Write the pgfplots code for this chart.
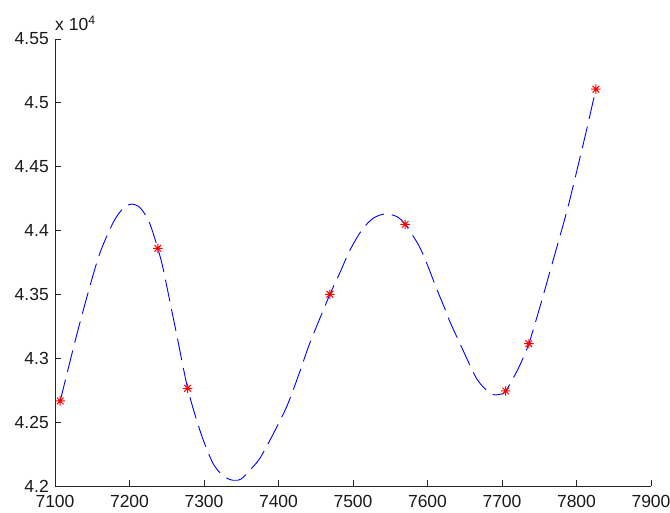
\documentclass[border=0pt]{standalone}
\usepackage{fontspec}
\setmainfont{Liberation Sans}
\usepackage{pgfplots}
\usepackage{pgfplotstable}
\pgfplotsset{compat=1.18}

% MATLAB-style asterisk: + and x on top of each other
\pgfdeclareplotmark{mstar}{%
  \pgfpathmoveto{\pgfqpoint{-\pgfplotmarksize}{0pt}}%
  \pgfpathlineto{\pgfqpoint{\pgfplotmarksize}{0pt}}%
  \pgfpathmoveto{\pgfqpoint{0pt}{-\pgfplotmarksize}}%
  \pgfpathlineto{\pgfqpoint{0pt}{\pgfplotmarksize}}%
  \pgfpathmoveto{\pgfqpoint{-.7071\pgfplotmarksize}{-.7071\pgfplotmarksize}}%
  \pgfpathlineto{\pgfqpoint{.7071\pgfplotmarksize}{.7071\pgfplotmarksize}}%
  \pgfpathmoveto{\pgfqpoint{-.7071\pgfplotmarksize}{.7071\pgfplotmarksize}}%
  \pgfpathlineto{\pgfqpoint{.7071\pgfplotmarksize}{-.7071\pgfplotmarksize}}%
  \pgfusepathqstroke}

\newcommand\lblfont{\fontsize{17.5}{20}\selectfont}

% interpolated curve
\pgfplotstableread{
x y
7107 42666
7118 42925
7129 43180
7140 43420
7151 43650
7158 43785
7165 43895
7178 44062
7187 44144
7195 44190
7203 44208
7212 44190
7218 44152
7225 44085
7230 44010
7238 43861
7245 43705
7257 43365
7263 43196
7270 42990
7278 42765
7286 42595
7290 42517
7299 42360
7312 42178
7324 42088
7335 42050
7342 42045
7350 42055
7364 42139
7375 42217
7391 42386
7411 42621
7427 42869
7442 43118
7460 43375
7469 43501
7483 43678
7496 43848
7512 44005
7527 44096
7543 44130
7559 44109
7570 44049
7588 43887
7599 43744
7612 43548
7624 43378
7630 43287
7644 43110
7662 42883
7671 42800
7686 42718
7697 42718
7705 42744
7722 42922
7736 43114
7751 43404
7762 43630
7776 43920
7787 44150
7796 44360
7805 44579
7814 44800
7822 45005
7826 45107
}\curve

% measured points
\pgfplotstableread{
x y
7107 42666
7238 43861
7278 42765
7469 43501
7570 44049
7705 42744
7736 43114
7826 45107
}\pts

\begin{document}
\begin{tikzpicture}
\useasboundingbox (-55pt,-27pt) rectangle (615pt,486pt);
\begin{axis}[
  at={(0pt,0pt)}, anchor=south west,
  scale only axis, width=596pt, height=447pt,
  xmin=7100, xmax=7900, ymin=42000, ymax=45500,
  xtick={7100,7200,...,7900},
  ytick={42000,42500,...,45500},
  axis lines*=left, axis line style={-, black!85, line width=0.8pt},
  tick align=inside, major tick length=6pt,
  tick style={black!85, line width=0.8pt},
  scaled x ticks=false,
  scaled y ticks=manual:{}{\pgfmathparse{#1/10000}},
  /pgf/number format/assume math mode=true,
  ticklabel style={font=\lblfont, text=black!90, inner sep=2pt},
  xticklabel style={/pgf/number format/fixed, /pgf/number format/set thousands separator={}, yshift=-7pt},
  yticklabel style={/pgf/number format/fixed, /pgf/number format/precision=2, xshift=-4pt},
  clip=false,
]
\addplot[blue, line width=0.9pt, dash pattern=on 22pt off 8pt, smooth] table[x=x,y=y] {\curve};
\addplot[only marks, red, mark=mstar, mark size=4.7pt, mark options={line width=1pt}] table[x=x,y=y] {\pts};
\end{axis}
\node[anchor=base west, inner sep=0pt, font=\lblfont, text=black!90] at (0pt,455pt) {x 10\textsuperscript{4}};
\end{tikzpicture}
\end{document}
